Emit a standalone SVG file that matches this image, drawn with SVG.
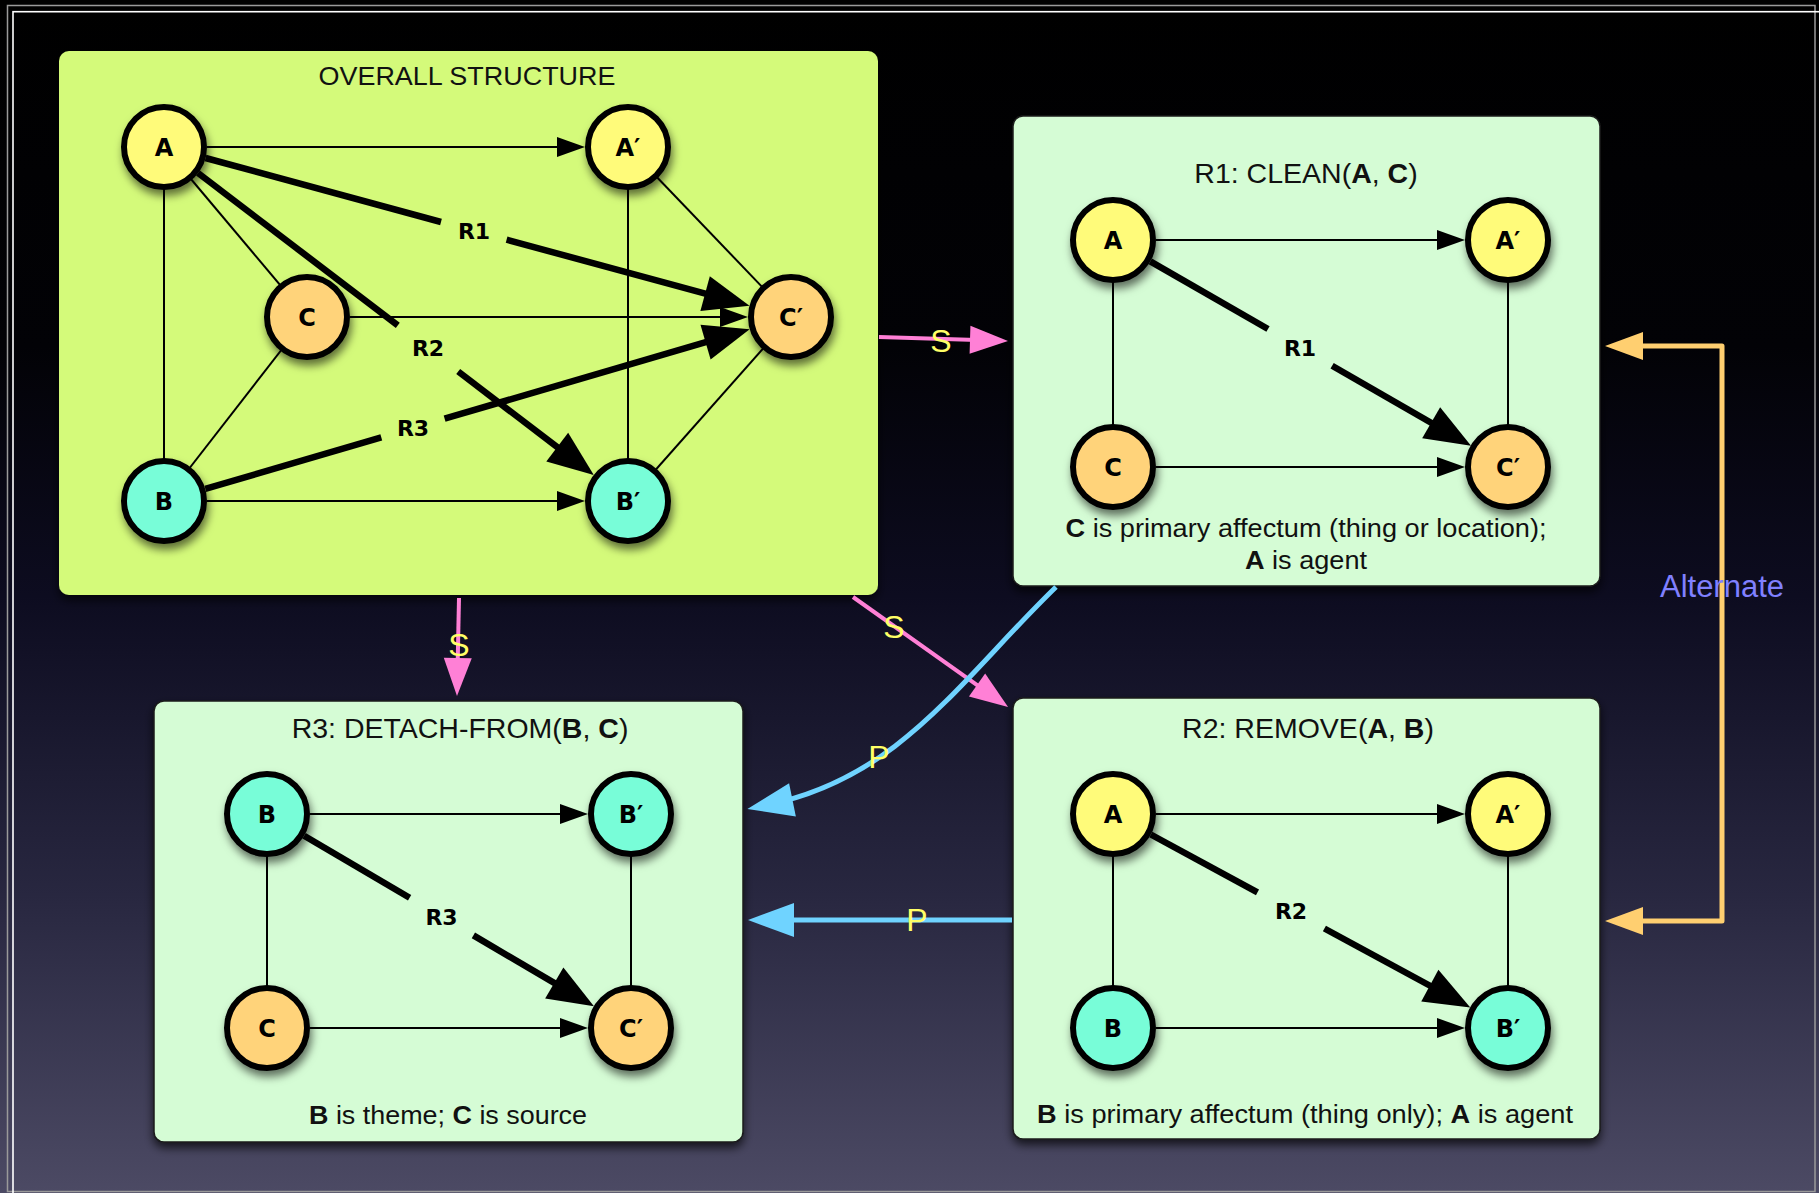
<svg xmlns="http://www.w3.org/2000/svg" width="1819" height="1193" viewBox="0 0 1819 1193">
<defs>
<linearGradient id="bg" x1="0" y1="0" x2="0" y2="1">
<stop offset="0" stop-color="#000000"/>
<stop offset="0.29" stop-color="#020206"/>
<stop offset="0.5" stop-color="#0d0c20"/>
<stop offset="0.75" stop-color="#282740"/>
<stop offset="1" stop-color="#4c4a64"/>
</linearGradient>
<filter id="ns" x="-40%" y="-40%" width="180%" height="190%">
<feDropShadow dx="2" dy="6" stdDeviation="4" flood-color="#000" flood-opacity="0.55"/>
</filter>
<filter id="bs" x="-10%" y="-10%" width="120%" height="125%">
<feDropShadow dx="0" dy="5" stdDeviation="5" flood-color="#000" flood-opacity="0.7"/>
</filter>
<marker id="ah" markerUnits="userSpaceOnUse" markerWidth="30" markerHeight="22" refX="20" refY="10" orient="auto" overflow="visible">
<path d="M0,0 L28,10 L0,20 Z" fill="#000"/>
</marker>
<marker id="ahT" markerUnits="userSpaceOnUse" markerWidth="48" markerHeight="38" refX="26" refY="18" orient="auto" overflow="visible">
<path d="M0,0 L46,18 L0,36 Z" fill="#000"/>
</marker>
<marker id="ahS" markerUnits="userSpaceOnUse" markerWidth="40" markerHeight="30" refX="23" refY="14" orient="auto" overflow="visible">
<path d="M0,0 L38,14 L0,28 Z" fill="#ff80d6"/>
</marker>
<marker id="ahP" markerUnits="userSpaceOnUse" markerWidth="48" markerHeight="36" refX="26" refY="17" orient="auto" overflow="visible">
<path d="M0,0 L46,17 L0,34 Z" fill="#6fd3ff"/>
</marker>
<marker id="ahA" markerUnits="userSpaceOnUse" markerWidth="40" markerHeight="30" refX="18" refY="14" orient="auto-start-reverse" overflow="visible">
<path d="M0,0 L38,14 L0,28 Z" fill="#ffcf70"/>
</marker>
<style>
.box{fill:#d5fcd5;stroke:#1a1a1a;stroke-width:1.5;filter:url(#bs)}
.obox{fill:#d4fa7a;filter:url(#bs)}
.title{font-family:"Liberation Sans",Arial,sans-serif;font-size:28.5px;fill:#111;text-anchor:middle}
.cap{font-family:"Liberation Sans",Arial,sans-serif;font-size:25px;fill:#111;text-anchor:middle}
.b{font-weight:bold}
.thin{stroke:#000;stroke-width:2;fill:none}
.arr{marker-end:url(#ah)}
.thick{stroke:#000;stroke-width:6.5;fill:none}
.tarr{marker-end:url(#ahT)}
.node circle{stroke:#000;stroke-width:6;filter:url(#ns)}
.ya circle{fill:#fffb7a}
.or circle{fill:#ffd37a}
.cy circle{fill:#78fdd8}
.nl{font-family:"DejaVu Sans",sans-serif;font-weight:bold;font-size:24px;text-anchor:middle;fill:#000}
.rl{font-family:"DejaVu Sans",sans-serif;font-weight:bold;font-size:22px;text-anchor:middle;fill:#000}
.s{stroke:#ff80d6;stroke-width:4;fill:none;marker-end:url(#ahS)}
.p{stroke:#6fd3ff;stroke-width:5;fill:none;marker-end:url(#ahP)}
.alt{stroke:#ffcf70;stroke-width:5;fill:none;stroke-linejoin:round;marker-start:url(#ahA);marker-end:url(#ahA)}
.cl{font-family:"Liberation Sans",Arial,sans-serif;font-size:32px;fill:#ffff66;text-anchor:middle}
.altl{font-family:"Liberation Sans",Arial,sans-serif;font-size:31px;fill:#8080ff;text-anchor:middle}
</style>
</defs>

<rect x="0" y="0" width="1819" height="1193" fill="url(#bg)"/>
<rect x="7.5" y="5.5" width="1807.5" height="1186" fill="none" stroke="#9a9a9a" stroke-width="1.5"/>
<rect x="13" y="11.7" width="1830" height="1210" fill="none" stroke="#ffffff" stroke-width="1.6"/>

<!-- boxes -->
<g id="box-overall">
<rect class="obox" x="59" y="51" width="819" height="544" rx="10"/>
<text class="title" x="467" y="85" style="font-size:26px" textLength="297" lengthAdjust="spacingAndGlyphs">OVERALL STRUCTURE</text>
</g>
<g id="box-r1">
<rect class="box" x="1013" y="116" width="587" height="470" rx="10"/>
<text class="title" x="1306" y="183">R1: CLEAN(<tspan class="b">A</tspan>, <tspan class="b">C</tspan>)</text>
<text class="cap" x="1306" y="537" textLength="481" lengthAdjust="spacingAndGlyphs"><tspan class="b">C</tspan> is primary affectum (thing or location);</text>
<text class="cap" x="1306" y="569" textLength="122" lengthAdjust="spacingAndGlyphs"><tspan class="b">A</tspan> is agent</text>
</g>
<g id="box-r3">
<rect class="box" x="154" y="701" width="589" height="441" rx="10"/>
<text class="title" x="460" y="738">R3: DETACH-FROM(<tspan class="b">B</tspan>, <tspan class="b">C</tspan>)</text>
<text class="cap" x="448" y="1124" textLength="278" lengthAdjust="spacingAndGlyphs"><tspan class="b">B</tspan> is theme; <tspan class="b">C</tspan> is source</text>
</g>
<g id="box-r2">
<rect class="box" x="1013" y="698" width="587" height="441" rx="10"/>
<text class="title" x="1308" y="738">R2: REMOVE(<tspan class="b">A</tspan>, <tspan class="b">B</tspan>)</text>
<text class="cap" x="1305" y="1123" textLength="536" lengthAdjust="spacingAndGlyphs"><tspan class="b">B</tspan> is primary affectum (thing only); <tspan class="b">A</tspan> is agent</text>
</g>

<!-- connectors inside boxes -->
<g id="connectors-inner">
<!-- overall -->
<line class="thin" x1="164" y1="147" x2="164" y2="501"/>
<line class="thin" x1="628" y1="147" x2="628" y2="501"/>
<line class="thin" x1="164" y1="147" x2="307" y2="317"/>
<line class="thin" x1="307" y1="317" x2="164" y2="501"/>
<line class="thin" x1="628" y1="147" x2="791" y2="317"/>
<line class="thin" x1="791" y1="317" x2="628" y2="501"/>
<line class="thin arr" x1="207" y1="147" x2="577" y2="147"/>
<line class="thin arr" x1="350" y1="317" x2="740" y2="317"/>
<line class="thin arr" x1="207" y1="501" x2="577" y2="501"/>
<line class="thick" x1="205.5" y1="158" x2="441" y2="222"/>
<line class="thick tarr" x1="506.6" y1="239.7" x2="730.2" y2="300.4"/>
<line class="thick" x1="198" y1="173" x2="397.8" y2="325.4"/>
<line class="thick tarr" x1="458.2" y1="371.5" x2="577.9" y2="462.9"/>
<line class="thick" x1="205.3" y1="488.9" x2="381.3" y2="437.3"/>
<line class="thick tarr" x1="444.6" y1="418.7" x2="730.5" y2="334.8"/>
<text class="rl" x="474" y="239">R1</text>
<text class="rl" x="428" y="356">R2</text>
<text class="rl" x="413" y="436">R3</text>
<!-- R1 -->
<line class="thin" x1="1113" y1="240" x2="1113" y2="467"/>
<line class="thin" x1="1508" y1="240" x2="1508" y2="467"/>
<line class="thin arr" x1="1156" y1="240" x2="1457" y2="240"/>
<line class="thin arr" x1="1156" y1="467" x2="1457" y2="467"/>
<line class="thick" x1="1150.3" y1="261.4" x2="1268" y2="329"/>
<line class="thick tarr" x1="1332.1" y1="365.8" x2="1453.7" y2="435.7"/>
<text class="rl" x="1300" y="356">R1</text>
<!-- R3 -->
<line class="thin" x1="267" y1="814" x2="267" y2="1028"/>
<line class="thin" x1="631" y1="814" x2="631" y2="1028"/>
<line class="thin arr" x1="310" y1="814" x2="580" y2="814"/>
<line class="thin arr" x1="310" y1="1028" x2="580" y2="1028"/>
<line class="thick" x1="304.1" y1="835.8" x2="409.6" y2="897.8"/>
<line class="thick tarr" x1="473.4" y1="935.4" x2="576.7" y2="996.1"/>
<text class="rl" x="441.5" y="925">R3</text>
<!-- R2 -->
<line class="thin" x1="1113" y1="814" x2="1113" y2="1028"/>
<line class="thin" x1="1508" y1="814" x2="1508" y2="1028"/>
<line class="thin arr" x1="1156" y1="814" x2="1457" y2="814"/>
<line class="thin arr" x1="1156" y1="1028" x2="1457" y2="1028"/>
<line class="thick" x1="1150.8" y1="834.5" x2="1257.5" y2="892.3"/>
<line class="thick tarr" x1="1324.4" y1="928.5" x2="1452.7" y2="998"/>
<text class="rl" x="1291" y="919">R2</text>
</g>

<!-- nodes: overall -->
<g id="ov-A" class="node ya"><circle cx="164" cy="147" r="40"/><text class="nl" x="164" y="156">A</text></g>
<g id="ov-A2" class="node ya"><circle cx="628" cy="147" r="40"/><text class="nl" x="628" y="156">A′</text></g>
<g id="ov-C" class="node or"><circle cx="307" cy="317" r="40"/><text class="nl" x="307" y="326">C</text></g>
<g id="ov-C2" class="node or"><circle cx="791" cy="317" r="40"/><text class="nl" x="791" y="326">C′</text></g>
<g id="ov-B" class="node cy"><circle cx="164" cy="501" r="40"/><text class="nl" x="164" y="510">B</text></g>
<g id="ov-B2" class="node cy"><circle cx="628" cy="501" r="40"/><text class="nl" x="628" y="510">B′</text></g>
<!-- nodes: R1 -->
<g id="r1-A" class="node ya"><circle cx="1113" cy="240" r="40"/><text class="nl" x="1113" y="249">A</text></g>
<g id="r1-A2" class="node ya"><circle cx="1508" cy="240" r="40"/><text class="nl" x="1508" y="249">A′</text></g>
<g id="r1-C" class="node or"><circle cx="1113" cy="467" r="40"/><text class="nl" x="1113" y="476">C</text></g>
<g id="r1-C2" class="node or"><circle cx="1508" cy="467" r="40"/><text class="nl" x="1508" y="476">C′</text></g>
<!-- nodes: R3 -->
<g id="r3-B" class="node cy"><circle cx="267" cy="814" r="40"/><text class="nl" x="267" y="823">B</text></g>
<g id="r3-B2" class="node cy"><circle cx="631" cy="814" r="40"/><text class="nl" x="631" y="823">B′</text></g>
<g id="r3-C" class="node or"><circle cx="267" cy="1028" r="40"/><text class="nl" x="267" y="1037">C</text></g>
<g id="r3-C2" class="node or"><circle cx="631" cy="1028" r="40"/><text class="nl" x="631" y="1037">C′</text></g>
<!-- nodes: R2 -->
<g id="r2-A" class="node ya"><circle cx="1113" cy="814" r="40"/><text class="nl" x="1113" y="823">A</text></g>
<g id="r2-A2" class="node ya"><circle cx="1508" cy="814" r="40"/><text class="nl" x="1508" y="823">A′</text></g>
<g id="r2-B" class="node cy"><circle cx="1113" cy="1028" r="40"/><text class="nl" x="1113" y="1037">B</text></g>
<g id="r2-B2" class="node cy"><circle cx="1508" cy="1028" r="40"/><text class="nl" x="1508" y="1037">B′</text></g>

<!-- connectors between boxes -->
<g id="connectors">
<line class="s" x1="879" y1="337" x2="993" y2="340.5"/>
<line class="s" x1="459" y1="598" x2="457.3" y2="681"/>
<line class="s" x1="853" y1="597" x2="995.8" y2="698.3"/>
<path class="p" d="M1056,587 C960,680 900,778 767,805"/>
<line class="p" x1="1012" y1="920" x2="768" y2="920"/>
<path class="alt" d="M1625,346 L1722,346 L1722,921 L1625,921"/>
<text class="cl" x="941" y="352">S</text>
<text class="cl" x="459" y="656">S</text>
<text class="cl" x="894" y="638">S</text>
<text class="cl" x="879" y="768">P</text>
<text class="cl" x="917" y="931">P</text>
<text class="altl" x="1722" y="597">Alternate</text>
</g>
</svg>
